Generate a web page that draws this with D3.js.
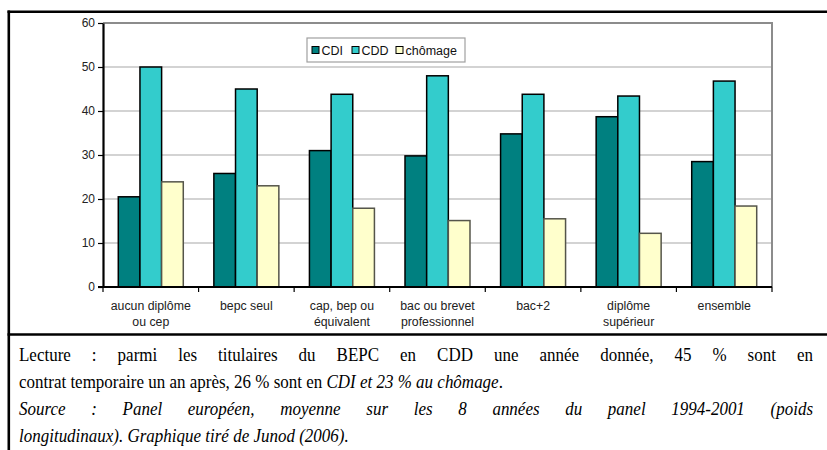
<!DOCTYPE html>
<html><head><meta charset="utf-8">
<script src="https://cdn.jsdelivr.net/npm/d3@7"></script>
<style>
html,body{margin:0;padding:0;background:#fff;}
svg{display:block;}
</style></head>
<body>
<svg id="chart" width="827" height="450"></svg>
<script>
const categories = [["aucun diplôme","ou cep"],["bepc seul"],["cap, bep ou","équivalent"],["bac ou brevet","professionnel"],["bac+2"],["diplôme","supérieur"],["ensemble"]];
const seriesNames = ["CDI","CDD","chômage"];
const cdi = [20.5, 25.8, 31.0, 29.8, 34.8, 38.7, 28.5];
const cdd = [50.0, 45.0, 43.8, 48.0, 43.8, 43.4, 46.8];
const chomage = [23.9, 23.0, 17.9, 15.1, 15.5, 12.2, 18.4];
const yTicks = [0, 10, 20, 30, 40, 50, 60];
const captionLines = [
  {justify:true, parts:[{t:"Lecture : parmi les titulaires du BEPC en CDD une année donnée, 45 % sont en", i:false}]},
  {justify:false, parts:[{t:"contrat temporaire un an après, 26 % sont en ", i:false},{t:"CDI et 23 % au chômage", i:true},{t:".", i:false}]},
  {justify:true, parts:[{t:"Source : Panel européen, moyenne sur les 8 années du panel 1994-2001 (poids", i:true}]},
  {justify:false, parts:[{t:"longitudinaux). Graphique tiré de Junod (2006).", i:true}]}
];

(function(){
const colors = {"CDI":"#008080","CDD":"#33CCCC","chômage":"#FFFFCC"};
const strokes = {"CDI":"#000","CDD":"#000","chômage":"#55554a"};
const series = [cdi, cdd, chomage];

const svg = d3.select("#chart");
const W = 827, H = 450;
svg.append("rect").attr("width",W).attr("height",H).attr("fill","#fff");

const pLeft = 103, pRight = 772, pTop = 23, pBottom = 287;
const x = d3.scaleBand().domain(d3.range(categories.length)).range([pLeft,pRight]).paddingInner(0.32).paddingOuter(0.16);
const xs = d3.scaleBand().domain(seriesNames).range([0, x.bandwidth()]);
const y = d3.scaleLinear().domain([0,60]).range([pBottom, pTop]);

const sansFont = "'Liberation Sans', Arial, sans-serif";
const serifFont = "'Liberation Serif', 'Times New Roman', serif";

svg.append("g").selectAll("line").data(yTicks.filter(d=>d>0 && d<60)).join("line")
  .attr("x1",pLeft).attr("x2",pRight).attr("y1",d=>y(d)).attr("y2",d=>y(d))
  .attr("stroke","#c4c4c4").attr("stroke-width",1.5);
svg.append("path").attr("d",`M${pLeft},${y(60)}H${pRight}V${pBottom}`).attr("fill","none").attr("stroke","#8c8c8c").attr("stroke-width",2);

const groups = svg.append("g").selectAll("g").data(categories).join("g")
  .attr("transform",(d,i)=>`translate(${x(i)},0)`);
groups.selectAll("rect").data((d,i)=>seriesNames.map((s,k)=>({s, v:series[k][i]}))).join("rect")
  .attr("x",d=>xs(d.s)).attr("width",xs.bandwidth())
  .attr("y",d=>y(d.v)).attr("height",d=>y(0)-y(d.v))
  .attr("fill",d=>colors[d.s]).attr("stroke",d=>strokes[d.s]).attr("stroke-width",1.5);

const yAxis = d3.axisLeft(y).tickValues(yTicks).tickSize(5).tickPadding(3).tickSizeOuter(0);
const gy = svg.append("g").attr("transform",`translate(${pLeft},0)`).call(yAxis);
gy.select(".domain").attr("stroke","#000").attr("stroke-width",2.2);
gy.selectAll(".tick line").attr("stroke","#000").attr("stroke-width",1.2);
gy.selectAll(".tick text").attr("font-family",sansFont).attr("font-size",12).attr("fill","#222");

const step = x.step();
svg.append("line").attr("x1",pLeft-5).attr("x2",pRight).attr("y1",pBottom).attr("y2",pBottom).attr("stroke","#000").attr("stroke-width",2.2);
svg.append("g").selectAll("line").data(d3.range(categories.length+1)).join("line")
  .attr("x1",d=>pLeft+d*step).attr("x2",d=>pLeft+d*step).attr("y1",pBottom).attr("y2",pBottom+5)
  .attr("stroke","#000").attr("stroke-width",1.2);
const xl = svg.append("g").selectAll("text").data(categories).join("text")
  .attr("x",(d,i)=>x(i)+x.bandwidth()/2).attr("y",310)
  .attr("text-anchor","middle").attr("font-family",sansFont).attr("font-size",12.3).attr("fill","#222");
xl.selectAll("tspan").data(d=>d).join("tspan")
  .attr("x",function(){return this.parentNode.getAttribute("x");})
  .attr("dy",(d,j)=>j===0?0:15.5).text(d=>d);

const lg = svg.append("g");
lg.append("rect").attr("x",307).attr("y",38).attr("width",158).attr("height",24)
  .attr("fill","#fff").attr("stroke","#a0a0a0").attr("stroke-width",1.2);
const legX = [312, 352, 396];
seriesNames.forEach((s,k)=>{
  lg.append("rect").attr("x",legX[k]).attr("y",46.5).attr("width",7).attr("height",7)
    .attr("fill",colors[s]).attr("stroke","#000").attr("stroke-width",1);
  lg.append("text").attr("x",legX[k]+9.5).attr("y",54.5).attr("font-family",sansFont)
    .attr("font-size",12.5).attr("fill","#111").text(s);
});

svg.append("line").attr("x1",7.5).attr("x2",W).attr("y1",11.8).attr("y2",11.8).attr("stroke","#000").attr("stroke-width",2.6);
svg.append("line").attr("x1",8.8).attr("x2",8.8).attr("y1",10.5).attr("y2",H).attr("stroke","#000").attr("stroke-width",2.6);
svg.append("line").attr("x1",7.5).attr("x2",W).attr("y1",334.5).attr("y2",334.5).attr("stroke","#000").attr("stroke-width",2.6);

const cx0 = 19, cx1 = 813, fs = 17;
const baselines = [361, 388, 415, 442];
const cap = svg.append("g").attr("font-family",serifFont).attr("font-size",fs).attr("fill","#000");
captionLines.forEach((ln, li)=>{
  const yy = baselines[li];
  const row = cap.append("g").attr("transform",`translate(0,${yy}) scale(1,1.12)`);
  if (ln.justify) {
    const words = [];
    ln.parts.forEach(p=>p.t.split(" ").filter(w=>w.length).forEach(w=>words.push({w, i:p.i})));
    const els = words.map(o=>row.append("text").attr("y",0).attr("font-style",o.i?"italic":"normal").text(o.w));
    const widths = els.map(e=>e.node().getComputedTextLength());
    const total = d3.sum(widths);
    const gap = (cx1-cx0-total)/(words.length-1);
    let cx = cx0;
    els.forEach((e,k)=>{ e.attr("x",cx); cx += widths[k]+gap; });
  } else {
    const t = row.append("text").attr("x",cx0).attr("y",0).attr("xml:space","preserve");
    ln.parts.forEach(p=>t.append("tspan").attr("font-style",p.i?"italic":"normal").text(p.t));
  }
});
})();
</script>
</body></html>
